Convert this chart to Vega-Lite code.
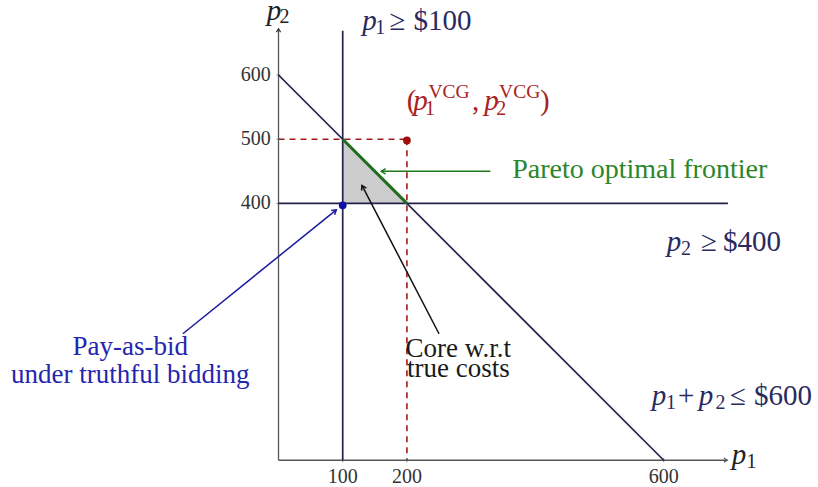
{
  "$schema": "https://vega.github.io/schema/vega-lite/v6.json",
  "width": 818,
  "height": 487,
  "autosize": {"type": "none"},
  "padding": 0,
  "background": "white",
  "config": {"view": {"stroke": null}, "text": {"font": "Liberation Serif"}},
  "datasets": {
    "constraints": [
      {"x": 100, "y": 0, "x2": 100, "y2": 669},
      {"x": 0, "y": 400, "x2": 700, "y2": 400},
      {"x": 0, "y": 600, "x2": 600, "y2": 0}
    ],
    "axes": [
      {"x": 0, "y": 0, "x2": 699, "y2": 0},
      {"x": 0, "y": 0, "x2": 0, "y2": 672}
    ],
    "xticks": [{"x": 100, "y": 0}, {"x": 200, "y": 0}, {"x": 600, "y": 0}],
    "yticks": [{"x": 0, "y": 400}, {"x": 0, "y": 500}, {"x": 0, "y": 600}],
    "vcg": [
      {"x": 0, "y": 500, "x2": 200, "y2": 500},
      {"x": 200, "y": 500, "x2": 200, "y2": 0}
    ],
    "core": [{"x": 100, "y": 500, "y2": 400}, {"x": 200, "y": 400, "y2": 400}],
    "frontier": [{"x": 100, "y": 500, "x2": 200, "y2": 400}],
    "greenArrow": [{"x": 330, "y": 450, "x2": 160, "y2": 450}],
    "blackArrow": [{"x": 250, "y": 197, "x2": 130, "y2": 428}],
    "blueArrow": [{"x": -149, "y": 197, "x2": 90, "y2": 390}],
    "xAxisHead": [{"x": 699, "y": 0}],
    "yAxisHead": [{"x": 0, "y": 672}],
    "greenHead": [{"x": 160, "y": 450}],
    "blackHead": [{"x": 130, "y": 428}],
    "blueHead": [{"x": 90, "y": 390}],
    "vcgPoint": [{"x": 200, "y": 498}],
    "payAsBidPoint": [{"x": 100, "y": 397}],
    "xTickLabels": [{"x": 100, "y": -26, "t": "100"}, {"x": 200, "y": -26, "t": "200"}, {"x": 600, "y": -26, "t": "600"}],
    "yTickLabels": [{"x": -12, "y": 400, "t": "400"}, {"x": -12, "y": 500, "t": "500"}, {"x": -12, "y": 600, "t": "600"}],
    "axisItalic": [{"x": -18.4, "y": 686, "t": "p"}, {"x": 705.9, "y": -5.9, "t": "p"}],
    "axisSub": [{"x": 1.5, "y": 680.6, "t": "2"}, {"x": 729, "y": -11.4, "t": "1"}],
    "navyItalic": [
      {"x": 141.7, "y": 670.1, "t": "p"},
      {"x": 616.1, "y": 326.6, "t": "p"},
      {"x": 592.7, "y": 86, "t": "p"},
      {"x": 666, "y": 86, "t": "p"}
    ],
    "navySub": [
      {"x": 150.5, "y": 663.9, "t": "1"},
      {"x": 627, "y": 320.4, "t": "2"},
      {"x": 603.6, "y": 79.8, "t": "1"},
      {"x": 680.5, "y": 79.8, "t": "2"}
    ],
    "navyRoman": [
      {"x": 185.4, "y": 669.3, "t": "≥"},
      {"x": 255.5, "y": 669.3, "t": "$100"},
      {"x": 670.5, "y": 326.6, "t": "≥"},
      {"x": 737.5, "y": 326.6, "t": "$400"},
      {"x": 634.8, "y": 86, "t": "+"},
      {"x": 715.7, "y": 86, "t": "≤"},
      {"x": 785.8, "y": 86, "t": "$600"}
    ],
    "greenText": [{"x": 364, "y": 452, "t": "Pareto optimal frontier"}],
    "blueText": [
      {"x": -231, "y": 164, "t": "Pay-as-bid"},
      {"x": -231, "y": 120, "t": "under truthful bidding"}
    ],
    "blackText": [
      {"x": 280, "y": 161, "t": "Core w.r.t"},
      {"x": 280, "y": 130, "t": "true costs"}
    ],
    "redRoman": [
      {"x": 199.7, "y": 545.5, "t": "("},
      {"x": 301.4, "y": 545.5, "t": ","},
      {"x": 407.3, "y": 545.5, "t": ")"}
    ],
    "redItalic": [
      {"x": 210, "y": 545.5, "t": "p"},
      {"x": 320.6, "y": 545.5, "t": "p"}
    ],
    "redSub": [
      {"x": 228.2, "y": 537.7, "t": "1"},
      {"x": 339, "y": 537.7, "t": "2"}
    ],
    "redSup": [
      {"x": 233.5, "y": 563.4, "t": "VCG"},
      {"x": 343.5, "y": 563.4, "t": "VCG"}
    ]
  },
  "encoding": {
    "x": {"field": "x", "type": "quantitative", "scale": {"domain": [-433.8, 840.3], "nice": false, "zero": false}, "axis": null},
    "y": {"field": "y", "type": "quantitative", "scale": {"domain": [-41.7, 716.8], "nice": false, "zero": false}, "axis": null}
  },
  "layer": [
    {"data": {"name": "core"}, "mark": {"type": "area", "color": "#cccccc", "opacity": 1}, "encoding": {"y2": {"field": "y2"}}},
    {"data": {"name": "vcg"}, "mark": {"type": "rule", "color": "#a11a1a", "strokeWidth": 1.6, "strokeDash": [6, 5]}, "encoding": {"x2": {"field": "x2"}, "y2": {"field": "y2"}}},
    {"data": {"name": "axes"}, "mark": {"type": "rule", "color": "#555555", "strokeWidth": 1.3}, "encoding": {"x2": {"field": "x2"}, "y2": {"field": "y2"}}},
    {"data": {"name": "xticks"}, "mark": {"type": "tick", "orient": "vertical", "size": 4, "color": "#555555", "thickness": 1}},
    {"data": {"name": "yticks"}, "mark": {"type": "tick", "orient": "horizontal", "size": 4, "color": "#555555", "thickness": 1}},
    {"data": {"name": "constraints"}, "mark": {"type": "rule", "color": "#22224c", "strokeWidth": 1.7}, "encoding": {"x2": {"field": "x2"}, "y2": {"field": "y2"}}},
    {"data": {"name": "frontier"}, "mark": {"type": "rule", "color": "#1f6e1f", "strokeWidth": 3}, "encoding": {"x2": {"field": "x2"}, "y2": {"field": "y2"}}},
    {"data": {"name": "greenArrow"}, "mark": {"type": "rule", "color": "#1f7a1f", "strokeWidth": 1.5}, "encoding": {"x2": {"field": "x2"}, "y2": {"field": "y2"}}},
    {"data": {"name": "blackArrow"}, "mark": {"type": "rule", "color": "#111111", "strokeWidth": 1.5}, "encoding": {"x2": {"field": "x2"}, "y2": {"field": "y2"}}},
    {"data": {"name": "blueArrow"}, "mark": {"type": "rule", "color": "#1a1aa0", "strokeWidth": 1.5}, "encoding": {"x2": {"field": "x2"}, "y2": {"field": "y2"}}},
    {"data": {"name": "xAxisHead"}, "mark": {"type": "point", "shape": "M-1.6,-1L0,0L-1.6,1", "filled": false, "stroke": "#555555", "strokeWidth": 1.2, "size": 18, "angle": 0, "opacity": 1}},
    {"data": {"name": "yAxisHead"}, "mark": {"type": "point", "shape": "M-1.6,-1L0,0L-1.6,1", "filled": false, "stroke": "#333333", "strokeWidth": 1.2, "size": 18, "angle": 270, "opacity": 1}},
    {"data": {"name": "greenHead"}, "mark": {"type": "point", "shape": "M-1.6,-1L0,0L-1.6,1", "filled": false, "stroke": "#1f7a1f", "strokeWidth": 1.5, "size": 30, "angle": 180, "opacity": 1}},
    {"data": {"name": "blackHead"}, "mark": {"type": "point", "shape": "M-1.6,-1L0,0L-1.6,1", "filled": false, "stroke": "#111111", "strokeWidth": 1.5, "size": 30, "angle": 242.5, "opacity": 1}},
    {"data": {"name": "blueHead"}, "mark": {"type": "point", "shape": "M-1.6,-1L0,0L-1.6,1", "filled": false, "stroke": "#1a1aa0", "strokeWidth": 1.5, "size": 30, "angle": 321.2, "opacity": 1}},
    {"data": {"name": "vcgPoint"}, "mark": {"type": "circle", "color": "#a00d0d", "size": 60, "opacity": 1}},
    {"data": {"name": "payAsBidPoint"}, "mark": {"type": "circle", "color": "#1010a8", "size": 60, "opacity": 1}},
    {"data": {"name": "xTickLabels"}, "mark": {"type": "text", "fontSize": 20, "color": "#333333", "align": "center", "baseline": "middle"}, "encoding": {"text": {"field": "t"}}},
    {"data": {"name": "yTickLabels"}, "mark": {"type": "text", "fontSize": 20, "color": "#333333", "align": "right", "baseline": "middle"}, "encoding": {"text": {"field": "t"}}},
    {"data": {"name": "axisItalic"}, "mark": {"type": "text", "fontSize": 29, "fontStyle": "italic", "color": "#222222", "align": "left", "baseline": "alphabetic"}, "encoding": {"text": {"field": "t"}}},
    {"data": {"name": "axisSub"}, "mark": {"type": "text", "fontSize": 20, "color": "#222222", "align": "left", "baseline": "alphabetic"}, "encoding": {"text": {"field": "t"}}},
    {"data": {"name": "navyItalic"}, "mark": {"type": "text", "fontSize": 29, "fontStyle": "italic", "color": "#2a2a5e", "align": "center", "baseline": "alphabetic"}, "encoding": {"text": {"field": "t"}}},
    {"data": {"name": "navySub"}, "mark": {"type": "text", "fontSize": 20, "color": "#2a2a5e", "align": "left", "baseline": "alphabetic"}, "encoding": {"text": {"field": "t"}}},
    {"data": {"name": "navyRoman"}, "mark": {"type": "text", "fontSize": 29, "color": "#2a2a5e", "align": "center", "baseline": "alphabetic"}, "encoding": {"text": {"field": "t"}}},
    {"data": {"name": "greenText"}, "mark": {"type": "text", "fontSize": 28, "color": "#2b862b", "align": "left", "baseline": "middle"}, "encoding": {"text": {"field": "t"}}},
    {"data": {"name": "blueText"}, "mark": {"type": "text", "fontSize": 27, "color": "#2525b0", "align": "center", "baseline": "alphabetic"}, "encoding": {"text": {"field": "t"}}},
    {"data": {"name": "blackText"}, "mark": {"type": "text", "fontSize": 27, "color": "#1a1a1a", "align": "center", "baseline": "alphabetic"}, "encoding": {"text": {"field": "t"}}},
    {"data": {"name": "redRoman"}, "mark": {"type": "text", "fontSize": 29, "color": "#ab2222", "align": "left", "baseline": "alphabetic"}, "encoding": {"text": {"field": "t"}}},
    {"data": {"name": "redItalic"}, "mark": {"type": "text", "fontSize": 29, "fontStyle": "italic", "color": "#ab2222", "align": "left", "baseline": "alphabetic"}, "encoding": {"text": {"field": "t"}}},
    {"data": {"name": "redSub"}, "mark": {"type": "text", "fontSize": 20, "color": "#ab2222", "align": "left", "baseline": "alphabetic"}, "encoding": {"text": {"field": "t"}}},
    {"data": {"name": "redSup"}, "mark": {"type": "text", "fontSize": 19.5, "color": "#ab2222", "align": "left", "baseline": "alphabetic"}, "encoding": {"text": {"field": "t"}}}
  ]
}
